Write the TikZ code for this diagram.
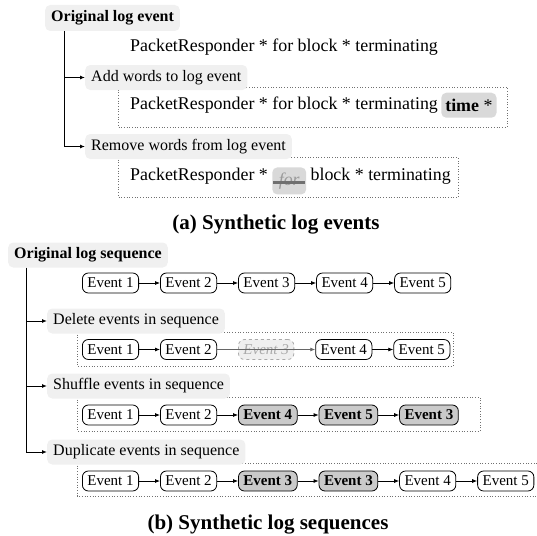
\documentclass[tikz,border=0pt]{standalone}
\usepackage{fontspec}
\setmainfont{Liberation Serif}
\usetikzlibrary{arrows.meta,positioning}
\definecolor{lblfill}{HTML}{F0F0F0}
\definecolor{hlfill}{HTML}{D9D9D9}
\definecolor{evgray}{HTML}{CACACA}
\definecolor{delfill}{HTML}{EFEFEF}
\definecolor{delgray}{HTML}{AAAAAA}
\definecolor{framegray}{HTML}{707070}
\definecolor{forgray}{HTML}{999999}
\definecolor{strikegray}{HTML}{707070}
\definecolor{skipgray}{HTML}{666666}
\begin{document}
\begin{tikzpicture}[x=1pt,y=-1pt,
  lbl/.style={fill=lblfill, rounded corners=5pt, inner xsep=6pt, inner ysep=0pt,
    minimum height=25pt, anchor=west, font=\fontsize{16}{18}\selectfont},
  hdr/.style={lbl, font=\fontsize{16}{18}\selectfont\bfseries},
  logtxt/.style={inner sep=0pt, font=\fontsize{17.9}{20}\selectfont},
  hlbox/.style={fill=hlfill, rounded corners=5pt, inner xsep=4pt, inner ysep=0pt},
  ev/.style={draw, line width=0.8pt, rounded corners=6pt, inner xsep=5pt, inner ysep=0pt,
    minimum height=20pt, fill=white, font=\fontsize{15}{17}\selectfont},
  evb/.style={ev, fill=evgray, font=\fontsize{15}{17}\selectfont\bfseries},
  evdel/.style={ev, dashed, draw=delgray, fill=delfill, text=delgray,
    font=\fontsize{15}{17}\selectfont\itshape},
  flow/.style={-{Latex[length=5pt,width=4pt]}, line width=0.8pt},
  tree/.style={flow, line width=1pt},
  frame/.style={draw=framegray, dotted, line width=0.7pt},
  captxt/.style={font=\fontsize{21}{24}\selectfont\bfseries}
]
\useasboundingbox (0,0) rectangle (537,535);

% ---------------- (a) Synthetic log events ----------------
\draw[frame] (118,87) rectangle (507,127);
\draw[frame] (118,157) rectangle (458,197);

\node[hdr, minimum height=26pt] (origE) at (45,18) {Original log event};
\node[lbl] (addW) at (85,77.5) {Add words to log event};
\node[lbl] (remW) at (85,146.5) {Remove words from log event};

\coordinate (trunkA) at (64,31);
\draw[tree] (trunkA) |- (remW.west);
\draw[tree] (trunkA |- addW.west) -- (addW.west);

\node[logtxt, anchor=west] (l1) at (130,47) {PacketResponder * for block * terminating};

\node[logtxt, anchor=west] (l2) at (130,105) {PacketResponder * for block * terminating};
\node[hlbox, anchor=base west, minimum height=25pt] (timeN) at ([xshift=3pt,yshift=-2pt]l2.base east)
  {\fontsize{17.9}{20}\selectfont\textbf{time} *};

\node[logtxt, anchor=west] (l3a) at (130,176) {PacketResponder *};
\node[hlbox, anchor=base west, minimum height=27pt, inner xsep=6.5pt, text=forgray, yshift=-5pt]
  (forN) at ([xshift=4pt]l3a.base east) {\fontsize{17.9}{20}\selectfont\itshape for};
\draw[strikegray, line width=2.6pt] ([xshift=1pt,yshift=-1.5pt]forN.west) -- ([xshift=-1pt,yshift=-1.5pt]forN.east);
\node[logtxt, anchor=base west] (l3b) at ([xshift=4pt,yshift=5pt]forN.base east) {block * terminating};

\node[captxt] (capA) at (276,225) {(a) Synthetic log events};

% ---------------- (b) Synthetic log sequences ----------------
\draw[frame] (77,332) rectangle (453,366);
\draw[frame] (77,397) rectangle (480,431);
\draw[frame] (77,463) rectangle (540,496);

\node[hdr] (origS) at (8,255) {Original log sequence};
\node[lbl] (delS) at (47,321) {Delete events in sequence};
\node[lbl] (shuS) at (47,386) {Shuffle events in sequence};
\node[lbl] (dupS) at (47,452) {Duplicate events in sequence};

\coordinate (trunkB) at (26.7,267.5);
\draw[tree] (trunkB) |- (dupS.west);
\draw[tree] (trunkB |- delS.west) -- (delS.west);
\draw[tree] (trunkB |- shuS.west) -- (shuS.west);

% row 1: original
\node[ev, anchor=west] (a1) at (82,283) {Event 1};
\node[ev, right=21pt of a1] (a2) {Event 2};
\node[ev, right=21pt of a2] (a3) {Event 3};
\node[ev, right=21pt of a3] (a4) {Event 4};
\node[ev, right=21pt of a4] (a5) {Event 5};
\draw[flow] (a1) -- (a2);
\draw[flow] (a2) -- (a3);
\draw[flow] (a3) -- (a4);
\draw[flow] (a4) -- (a5);

% row 2: delete
\node[ev, anchor=west] (b1) at (82,349.5) {Event 1};
\node[ev, right=21pt of b1] (b2) {Event 2};
\node[evdel, right=21pt of b2] (b3) {Event 3};
\node[ev, right=21pt of b3] (b4) {Event 4};
\node[ev, right=21pt of b4] (b5) {Event 5};
\draw[flow] (b1) -- (b2);
\draw[flow, draw=skipgray] (b2) -- (b4);
\draw[flow] (b4) -- (b5);

% row 3: shuffle
\node[ev, anchor=west] (c1) at (82,415) {Event 1};
\node[ev, right=21pt of c1] (c2) {Event 2};
\node[evb, right=21pt of c2] (c3) {Event 4};
\node[evb, right=21pt of c3] (c4) {Event 5};
\node[evb, right=21pt of c4] (c5) {Event 3};
\draw[flow] (c1) -- (c2);
\draw[flow] (c2) -- (c3);
\draw[flow] (c3) -- (c4);
\draw[flow] (c4) -- (c5);

% row 4: duplicate
\node[ev, anchor=west] (d1) at (82,481) {Event 1};
\node[ev, right=21pt of d1] (d2) {Event 2};
\node[evb, right=21pt of d2] (d3) {Event 3};
\node[evb, right=21pt of d3] (d4) {Event 3};
\node[ev, right=21pt of d4] (d5) {Event 4};
\node[ev, right=21pt of d5] (d6) {Event 5};
\draw[flow] (d1) -- (d2);
\draw[flow] (d2) -- (d3);
\draw[flow] (d3) -- (d4);
\draw[flow] (d4) -- (d5);
\draw[flow] (d5) -- (d6);

\node[captxt] (capB) at (268,525) {(b) Synthetic log sequences};
\end{tikzpicture}
\end{document}
